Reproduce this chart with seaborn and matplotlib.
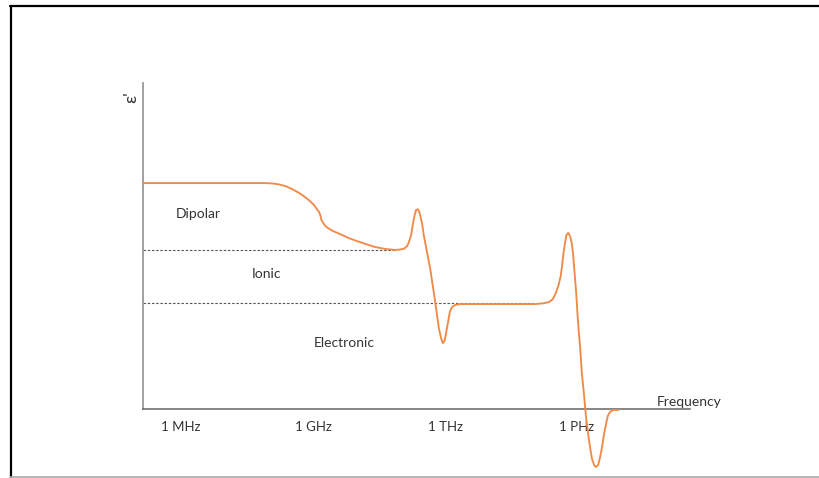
import matplotlib
matplotlib.use("Agg")
import matplotlib.pyplot as plt
from matplotlib.lines import Line2D
import seaborn as sns
import pandas as pd

# Real part of permittivity versus log10(frequency / Hz), arbitrary units
log_freq = [5.14, 7.91, 8.07, 8.23, 8.39, 8.55, 8.68, 8.82, 8.93, 9.02, 9.09, 9.14,
            9.17, 9.19, 9.23, 9.27, 9.34, 9.45, 9.61, 9.80, 10.00, 10.20, 10.41,
            10.64, 10.86,
            10.98, 11.07, 11.14, 11.18, 11.23, 11.27, 11.31, 11.34, 11.38, 11.41,
            11.44, 11.48, 11.52, 11.59, 11.66, 11.73, 11.80, 11.86, 11.91, 11.95,
            11.99, 12.02, 12.07, 12.11, 12.16, 12.23, 12.34,
            14.05, 14.23, 14.36, 14.45, 14.52, 14.58, 14.63, 14.66, 14.69, 14.73,
            14.76, 14.80, 14.84, 14.88, 14.91, 14.94, 14.98, 15.02, 15.07, 15.11,
            15.16, 15.20, 15.25, 15.30, 15.34, 15.39, 15.43, 15.48, 15.52, 15.57,
            15.61, 15.66, 15.70, 15.75, 15.82, 15.93]
epsilon = [6.93, 6.93, 6.92, 6.89, 6.83, 6.73, 6.63, 6.50, 6.38, 6.26, 6.13, 6.04,
           5.92, 5.80, 5.71, 5.63, 5.55, 5.46, 5.37, 5.25, 5.15, 5.06, 4.97,
           4.91, 4.88,
           4.89, 4.92, 5.00, 5.12, 5.34, 5.67, 5.95, 6.10, 6.13, 6.07,
           5.92, 5.67, 5.31, 4.82, 4.33, 3.71, 3.07, 2.48, 2.18, 2.02,
           2.09, 2.30, 2.67, 2.98, 3.13, 3.19, 3.22,
           3.22, 3.24, 3.28, 3.37, 3.56, 3.80, 4.08, 4.39, 4.75, 5.12,
           5.34, 5.40, 5.31, 5.09, 4.75, 4.26, 3.59, 2.73, 1.90, 1.10,
           0.43, -0.18, -0.74, -1.20, -1.53, -1.72, -1.78, -1.72, -1.50, -1.17,
           -0.80, -0.46, -0.21, -0.09, -0.03, -0.03]

# Reference levels left after each mechanism drops out
level_values = [4.88, 3.25]
level_ends = [10.86, 14.00]

# Mechanism names and where they sit
mech_names = ["Dipolar", "Ionic", "Electronic"]
mech_x = [6.40, 7.95, 9.70]
mech_y = [5.98, 4.14, 2.03]

tick_pos = [6, 9, 12, 15]
tick_labels = ["1 MHz", "1 GHz", "1 THz", "1 PHz"]

sns.set_theme(style="white")
plt.rcParams["font.family"] = ["Lato", "DejaVu Sans"]

fig = plt.figure(figsize=(8.19, 4.78), dpi=100)
ax = fig.add_axes([143 / 819, 1 - 409 / 478, (690 - 143) / 819, (409 - 83) / 478])

df = pd.DataFrame({"log_freq": log_freq, "epsilon": epsilon})
sns.lineplot(data=df, x="log_freq", y="epsilon", sort=False, estimator=None,
             color="#F08A48", linewidth=1.35, ax=ax, clip_on=False, zorder=3,
             solid_joinstyle="round", solid_capstyle="round")

for lv, le in zip(level_values, level_ends):
    ax.plot([log_freq[0], le], [lv, lv], color="#555555", linewidth=0.8,
            linestyle=(0, (2.2, 1.6)), zorder=2)

for name, mx, my in zip(mech_names, mech_x, mech_y):
    ax.text(mx, my, name, fontsize=10, color="#333333", ha="center", va="center")

ax.set_xlim(5.136, 17.568)
ax.set_ylim(0, 10)
ax.set_xticks(tick_pos)
ax.set_xticklabels(tick_labels, fontsize=9.5, color="#333333")
ax.set_yticks([])
ax.tick_params(axis="x", direction="inout", length=9, width=0.9, color="#555555", pad=4)
ax.set_xlabel("")
ax.set_ylabel("")

for s in ["top", "right"]:
    ax.spines[s].set_visible(False)
ax.spines["left"].set_color("#9a9a9a")
ax.spines["left"].set_linewidth(1.3)
ax.spines["bottom"].set_color("#666666")
ax.spines["bottom"].set_linewidth(1.1)

fig.text(689 / 819, 1 - 402 / 478, "Frequency", fontsize=10, color="#333333",
         ha="center", va="center")
fig.text(131 / 819, 1 - 97 / 478, "ε'", fontsize=13, color="#333333",
         ha="center", va="center", rotation=90)

# Outer frame
fig.add_artist(Line2D([10 / 819, 1], [1 - 5.5 / 478, 1 - 5.5 / 478],
                      transform=fig.transFigure, color="black", linewidth=1.6))
fig.add_artist(Line2D([10.5 / 819, 10.5 / 819], [0, 1 - 5.5 / 478],
                      transform=fig.transFigure, color="black", linewidth=1.6))
fig.add_artist(Line2D([10 / 819, 1], [1.5 / 478, 1.5 / 478],
                      transform=fig.transFigure, color="#aaaaaa", linewidth=1.2))

fig.savefig("out.png", dpi=100)
